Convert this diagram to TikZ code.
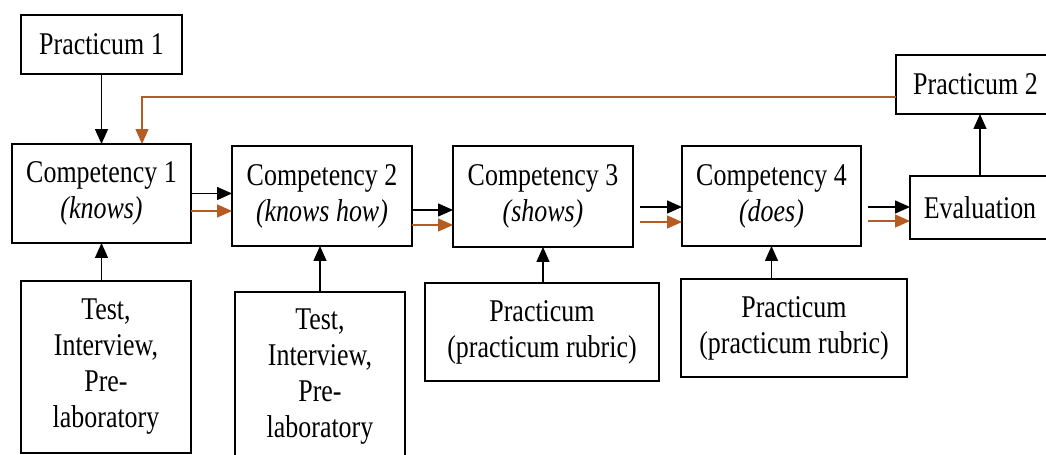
\documentclass[tikz,border=0pt]{standalone}
\usepackage{fontspec}
\setmainfont{Liberation Serif}[FakeStretch=0.82]
\usetikzlibrary{arrows.meta,calc}
\definecolor{fbbrown}{RGB}{180,92,34}
\tikzset{
  box/.style={draw, line width=1pt, align=center, inner sep=0pt, outer sep=0pt,
    font=\fontsize{18}{20.5}\selectfont},
  arr/.style={line width=0.8pt, -{Triangle[length=0.3cm,width=0.26cm]}},
  orarr/.style={arr, draw=fbbrown},
}

\begin{document}
\begin{tikzpicture}[x=0.02cm, y=-0.02cm]
		\useasboundingbox (0,0) rectangle (1046,455);
		\clip (0,0) rectangle (1046,455);
		
		% 上方的框
		\node[box, minimum width=3.22cm, minimum height=1.18cm] (p1) at (101.5,44.5) {Practicum 1};
		\node[box, minimum width=3.18cm, minimum height=1.18cm] (p2) at (975.5,84.5) {Practicum 2};
		
		% 中间一行：能力层级
		\node[box, minimum width=3.58cm, minimum height=1.98cm] (c1) at (101.5,193.5) {Competency 1\\\textit{(knows)}};
		\node[box, minimum width=3.6cm, minimum height=2cm] (c2) at (322,196) {Competency 2\\\textit{(knows how)}};
		\node[box, minimum width=3.6cm, minimum height=2.02cm] (c3) at (543,196.5) {Competency 3\\\textit{(shows)}};
		\node[box, minimum width=3.58cm, minimum height=2cm] (c4) at (771.5,196) {Competency 4\\\textit{(does)}};
		\node[box, minimum width=2.8cm, minimum height=1.26cm] (eval) at (980,207.5) {Evaluation};
		
		% 下方：评价工具
		\node[box, minimum width=3.4cm, minimum height=3.44cm] (t1) at (106,367) {Test,\\Interview,\\Pre-\\laboratory};
		\node[box, minimum width=3.4cm, minimum height=3.4cm] (t2) at (320,377) {Test,\\Interview,\\Pre-\\laboratory};
		\node[box, minimum width=4.68cm, minimum height=1.96cm] (r3) at (542,332) {Practicum\\(practicum rubric)};
		\node[box, minimum width=4.52cm, minimum height=1.96cm] (r4) at (794,328) {Practicum\\(practicum rubric)};
		
		% 竖直箭头
		\draw[arr] (p1.south -| c1.north) -- (c1.north);
		\draw[arr] (t1.north -| c1.south) -- (c1.south);
		\draw[arr] (t2.north) -- (t2.north |- c2.south);
		\draw[arr] (r3.north -| c3.south) -- (c3.south);
		\draw[arr] (r4.north -| c4.south) -- (c4.south);
		\draw[arr] (eval.north) -- (eval.north |- p2.south);
		
		% 反馈线（Practicum 2 回到 Competency 1）
		\coordinate (fbturn) at (142,97);
		\draw[orarr, line width=0.6pt] (p2.west |- fbturn) -- (fbturn) -- (fbturn |- c1.north);
		
		% 成对的水平箭头
		\coordinate (b12) at (c1.east);
		\coordinate (o12) at ($(c1.east)+(0,17.5)$);
		\coordinate (b23) at ($(c2.east)+(0,14)$);
		\coordinate (o23) at ($(c2.east)+(0,29)$);
		\coordinate (b34) at ($(c3.east)+(7,10.5)$);
		\coordinate (o34) at ($(c3.east)+(7,25.5)$);
		\coordinate (b45) at ($(c4.east)+(7,11)$);
		\coordinate (o45) at ($(c4.east)+(7,25)$);
		\draw[arr] (b12) -- (b12 -| c2.west);
		\draw[orarr] (o12) -- (o12 -| c2.west);
		\draw[arr] (b23) -- (b23 -| c3.west);
		\draw[orarr] (o23) -- (o23 -| c3.west);
		\draw[arr] (b34) -- (b34 -| c4.west);
		\draw[orarr] (o34) -- (o34 -| c4.west);
		\draw[arr] (b45) -- (b45 -| eval.west);
		\draw[orarr] (o45) -- (o45 -| eval.west);
	\end{tikzpicture}
\end{document}
